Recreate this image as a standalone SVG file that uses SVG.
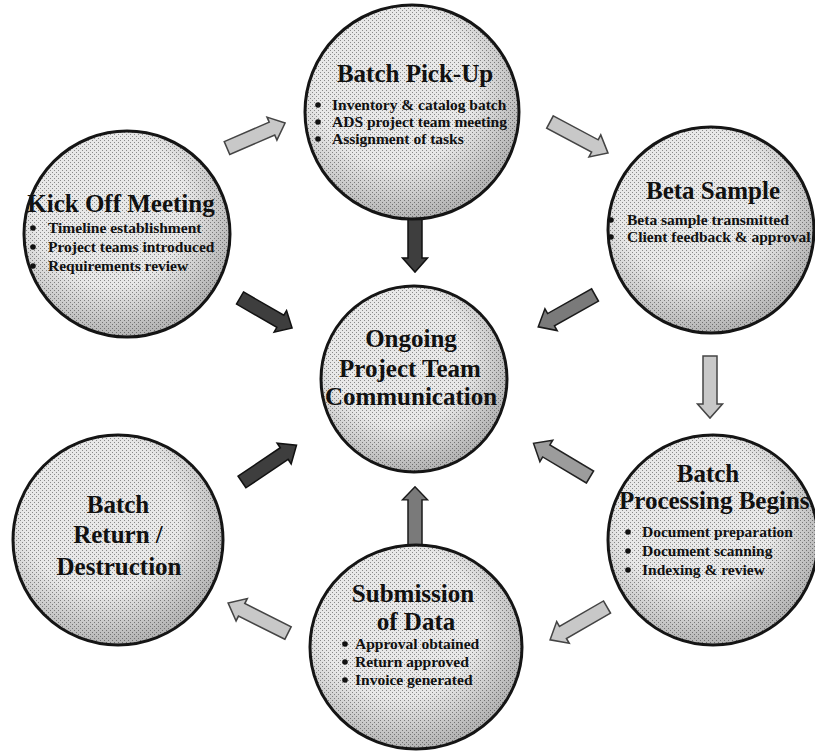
<svg xmlns="http://www.w3.org/2000/svg" width="815" height="751" viewBox="0 0 815 751">
<defs>
<pattern id="dith" width="4" height="4" patternUnits="userSpaceOnUse">
<rect width="4" height="4" fill="#e8e8e8"/>
<rect x="0" y="0" width="1" height="1" fill="#8a8a8a"/>
<rect x="2" y="2" width="1" height="1" fill="#8a8a8a"/>
</pattern>
<radialGradient id="shade" cx="0.42" cy="0.38" r="0.62">
<stop offset="0.6" stop-color="#000" stop-opacity="0"/>
<stop offset="1" stop-color="#000" stop-opacity="0.22"/>
</radialGradient>
<path id="arr" d="M0,-7 L48,-7 L48,-12.5 L62,0 L48,12.5 L48,7 L0,7 Z"/>
</defs>
<style>
.node{fill:url(#dith);stroke:#151515;stroke-width:3}
.sh{fill:url(#shade);stroke:none}
.t{font-family:"Liberation Serif","DejaVu Serif",serif;font-weight:bold;fill:#111}
.h{font-size:25px;text-anchor:middle}
.b{font-size:15.5px}
.dot{fill:#111}
.dk{fill:#3e3e3e;stroke:#111;stroke-width:1.5}
.md{fill:#7a7a7a;stroke:#1a1a1a;stroke-width:1.5}
.gr{fill:#9c9c9c;stroke:#222;stroke-width:1.5}
.lt{fill:#c8c8c8;stroke:#444;stroke-width:1.5}
</style>
<rect width="815" height="751" fill="#ffffff"/>
<g id="connectors">
<use href="#arr" class="lt" transform="translate(227,148) rotate(-23.3) scale(1.02,1)"/>
<use href="#arr" class="lt" transform="translate(550,122) rotate(28.1) scale(1.06,1)"/>
<use href="#arr" class="dk" transform="translate(415,210) rotate(90)"/>
<use href="#arr" class="dk" transform="translate(240,298) rotate(30) scale(0.97,1)"/>
<use href="#arr" class="md" transform="translate(595,295) rotate(150.7) scale(1.05,1)"/>
<use href="#arr" class="lt" transform="translate(710,356) rotate(90)"/>
<use href="#arr" class="gr" transform="translate(590,477) rotate(-149.2) scale(1.06,1)"/>
<use href="#arr" class="dk" transform="translate(242,482) rotate(-34) scale(1.06,1)"/>
<use href="#arr" class="md" transform="translate(415,545) rotate(-90) scale(0.94,1)"/>
<use href="#arr" class="lt" transform="translate(607,607) rotate(150) scale(1.06,1)"/>
<use href="#arr" class="lt" transform="translate(288,633) rotate(-153.4) scale(1.08,1)"/>
</g>
<g id="batch-pickup">
<circle class="node" cx="412" cy="112" r="107"/>
<circle class="sh" cx="412" cy="112" r="106"/>
<text class="t h" x="415" y="82">Batch Pick-Up</text>
<circle class="dot" cx="318" cy="105" r="2.8"/><text class="t b" x="332" y="110">Inventory &amp; catalog batch</text>
<circle class="dot" cx="318" cy="122" r="2.8"/><text class="t b" x="332" y="127">ADS project team meeting</text>
<circle class="dot" cx="318" cy="139" r="2.8"/><text class="t b" x="332" y="144">Assignment of tasks</text>
</g>
<g id="kickoff">
<circle class="node" cx="127" cy="234" r="103"/>
<circle class="sh" cx="127" cy="234" r="102"/>
<text class="t h" x="121" y="212">Kick Off Meeting</text>
<circle class="dot" cx="33" cy="228" r="2.8"/><text class="t b" x="48" y="233">Timeline establishment</text>
<circle class="dot" cx="33" cy="247" r="2.8"/><text class="t b" x="48" y="252">Project teams introduced</text>
<circle class="dot" cx="33" cy="266" r="2.8"/><text class="t b" x="48" y="271">Requirements review</text>
</g>
<g id="beta">
<circle class="node" cx="711" cy="230" r="103"/>
<circle class="sh" cx="711" cy="230" r="102"/>
<text class="t h" x="713" y="199">Beta Sample</text>
<circle class="dot" cx="611" cy="220" r="2.8"/><text class="t b" x="627" y="225">Beta sample transmitted</text>
<circle class="dot" cx="611" cy="237" r="2.8"/><text class="t b" x="627" y="242">Client feedback &amp; approval</text>
</g>
<g id="center">
<circle class="node" cx="414" cy="379" r="93"/>
<circle class="sh" cx="414" cy="379" r="92"/>
<text class="t h" x="411" y="347">Ongoing</text>
<text class="t h" x="410" y="377">Project Team</text>
<text class="t h" x="411" y="405">Communication</text>
</g>
<g id="processing">
<circle class="node" cx="713" cy="540" r="105"/>
<circle class="sh" cx="713" cy="540" r="104"/>
<text class="t h" x="708" y="482">Batch</text>
<text class="t" style="font-size:25px" x="619" y="509">Processing Begins</text>
<circle class="dot" cx="628" cy="532" r="2.8"/><text class="t b" x="642" y="537">Document preparation</text>
<circle class="dot" cx="628" cy="551" r="2.8"/><text class="t b" x="642" y="556">Document scanning</text>
<circle class="dot" cx="628" cy="570" r="2.8"/><text class="t b" x="642" y="575">Indexing &amp; review</text>
</g>
<g id="return">
<circle class="node" cx="118" cy="540" r="105"/>
<circle class="sh" cx="118" cy="540" r="104"/>
<text class="t h" x="118" y="513">Batch</text>
<text class="t h" x="118" y="543">Return /</text>
<text class="t h" x="119" y="575">Destruction</text>
</g>
<g id="submission">
<ellipse class="node" cx="416" cy="647" rx="106" ry="102"/>
<ellipse class="sh" cx="416" cy="647" rx="105" ry="101"/>
<text class="t h" x="413" y="602">Submission</text>
<text class="t h" x="416" y="630">of Data</text>
<circle class="dot" cx="345" cy="644" r="2.8"/><text class="t b" x="355" y="649">Approval obtained</text>
<circle class="dot" cx="345" cy="662" r="2.8"/><text class="t b" x="355" y="667">Return approved</text>
<circle class="dot" cx="345" cy="680" r="2.8"/><text class="t b" x="355" y="685">Invoice generated</text>
</g>
</svg>
